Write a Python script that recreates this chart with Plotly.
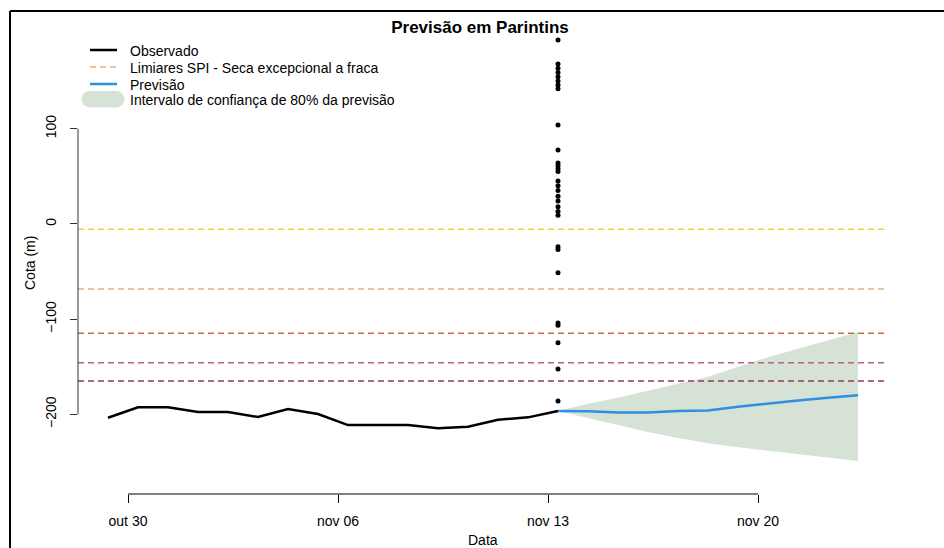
import pandas as pd
import plotly.graph_objects as go

# Observed series (daily)
obs_dates = pd.date_range("2023-10-29 08:00", periods=16, freq="D")
obs_values = [-203.6, -192.6, -192.6, -197.6, -197.6, -202.8, -194.4, -199.7,
              -211.3, -211.3, -211.3, -214.7, -213.0, -205.7, -203.2, -196.5]

# Forecast with 80% interval
fc_dates = pd.date_range("2023-11-13 08:00", periods=11, freq="D")
fc_values = [-196.5, -196.8, -198.0, -198.0, -196.5, -196.0, -192.0, -188.5, -185.5, -182.5, -180.0]
fc_upper = [-196.5, -189.0, -182.5, -175.5, -168.0, -160.5, -150.0, -140.0, -131.0, -122.0, -113.5]
fc_lower = [-196.5, -204.0, -211.5, -218.5, -225.0, -230.5, -234.5, -238.0, -241.5, -245.0, -249.0]

# Scattered points on the last observed day
dot_date = "2023-11-13 08:00"
dot_values = [193.2, 168, 163.5, 159, 154.5, 150, 146, 142, 103.9, 77.6, 64, 61, 58, 55,
              45, 40, 35, 29, 24, 18, 13, 9, -24, -27, -51.3, -104, -106.5, -124.8, -152.4, -186]

# SPI thresholds (excepcional -> fraca)
thresholds = [-5.7, -68.4, -114.9, -145.8, -165.0]
threshold_colors = ["#F2D13C", "#E8AE7C", "#C9703A", "#B0687A", "#943A5C"]

tick_dates = ["2023-10-30", "2023-11-06", "2023-11-13", "2023-11-20"]
tick_text = ["out 30", "nov 06", "nov 13", "nov 20"]
y_ticks = [-200, -100, 0, 100]

# plot region in pixels
L, R, T, B = 78, 888, 22, 494


def px_x(x):
    return (x - L) / (R - L)


def px_y(y):
    return (B - y) / (B - T)


FONT = "Liberation Sans, Arial, sans-serif"
FS = 14

fig = go.Figure()

# Confidence ribbon
fig.add_trace(go.Scatter(x=fc_dates, y=fc_upper, mode="lines",
                         line=dict(width=0), hoverinfo="skip", showlegend=False))
fig.add_trace(go.Scatter(x=fc_dates, y=fc_lower, mode="lines", fill="tonexty",
                         fillcolor="#D6E2D6", line=dict(width=0),
                         hoverinfo="skip", showlegend=False))

# Observed
fig.add_trace(go.Scatter(x=obs_dates, y=obs_values, mode="lines",
                         line=dict(color="black", width=2.5), showlegend=False))

# Forecast
fig.add_trace(go.Scatter(x=fc_dates, y=fc_values, mode="lines",
                         line=dict(color="#2F8FE0", width=2.5), showlegend=False))

# Dots
fig.add_trace(go.Scatter(x=[dot_date] * len(dot_values), y=dot_values, mode="markers",
                         marker=dict(color="black", size=5), showlegend=False))

fig.update_layout(
    width=944, height=548,
    margin=dict(l=L, r=944 - R, t=T, b=548 - B),
    paper_bgcolor="white", plot_bgcolor="white",
    showlegend=False,
    title=dict(text="<b>Previsão em Parintins</b>", x=480 / 944,
               xanchor="center", y=1 - 27 / 548, yanchor="middle",
               font=dict(size=17, color="black", family=FONT)),
    font=dict(family=FONT, color="black"),
)

# Thresholds
for val, col in zip(thresholds, threshold_colors):
    fig.add_hline(y=val, line=dict(color=col, width=1.5, dash="6px,4px"))

# partial axis lines (R style)
fig.add_shape(type="line", xref="x", yref="paper", x0=tick_dates[0], x1=tick_dates[-1],
              y0=0, y1=0, line=dict(color="black", width=1))
fig.add_shape(type="line", xref="paper", yref="y", x0=0, x1=0,
              y0=y_ticks[0], y1=y_ticks[-1], line=dict(color="#333333", width=1))
# outer frame (top and left visible)
fig.add_shape(type="line", xref="paper", yref="paper", x0=px_x(10), x1=px_x(960),
              y0=px_y(11), y1=px_y(11), line=dict(color="black", width=2))
fig.add_shape(type="line", xref="paper", yref="paper", x0=px_x(10), x1=px_x(10),
              y0=px_y(11), y1=px_y(560), line=dict(color="black", width=2))

# manual legend
legend_rows = [
    ("Observado", dict(color="black", width=2.5)),
    ("Limiares SPI - Seca excepcional a fraca", dict(color="#E8AE7C", width=1.5, dash="6px,4px")),
    ("Previsão", dict(color="#2F8FE0", width=2.5)),
]
row_y = [50, 67, 84, 100]
for (label, ln), yy in zip(legend_rows, row_y):
    fig.add_shape(type="line", xref="paper", yref="paper", x0=px_x(90), x1=px_x(117),
                  y0=px_y(yy), y1=px_y(yy), line=ln)
    fig.add_annotation(text=label, x=px_x(128), y=px_y(yy + 1), xref="paper", yref="paper",
                       xanchor="left", yanchor="middle", showarrow=False,
                       font=dict(size=FS, color="black", family=FONT))
# rounded swatch for the interval
sw = dict(fillcolor="#D6E2D6", line=dict(width=0), xref="paper", yref="paper")
fig.add_shape(type="rect", x0=px_x(90), x1=px_x(116), y0=px_y(107.5), y1=px_y(91), **sw)
fig.add_shape(type="circle", x0=px_x(81.5), x1=px_x(98), y0=px_y(107.5), y1=px_y(91), **sw)
fig.add_shape(type="circle", x0=px_x(108), x1=px_x(124.5), y0=px_y(107.5), y1=px_y(91), **sw)
fig.add_annotation(text="Intervalo de confiança de 80% da previsão", x=px_x(128), y=px_y(row_y[3]),
                   xref="paper", yref="paper", xanchor="left", yanchor="middle", showarrow=False,
                   font=dict(size=FS, color="black", family=FONT))

# axis titles
fig.add_annotation(text="Data", x=0.5, y=px_y(540), xref="paper", yref="paper",
                   xanchor="center", yanchor="middle", showarrow=False,
                   font=dict(size=FS, color="black", family=FONT))
fig.add_annotation(text="Cota (m)", x=px_x(30), y=px_y(263), xref="paper", yref="paper",
                   xanchor="center", yanchor="middle", textangle=-90, showarrow=False,
                   font=dict(size=FS, color="black", family=FONT))

fig.update_xaxes(range=["2023-10-28 08:00", "2023-11-24 08:00"], tickvals=tick_dates,
                 ticktext=tick_text, ticks="outside", ticklen=8, tickcolor="black",
                 ticklabelstandoff=6,
                 showline=False, showgrid=False, zeroline=False,
                 tickfont=dict(size=FS, color="black", family=FONT))
fig.update_yaxes(range=[-283.7, 212.1], tickvals=y_ticks, ticks="outside", ticklen=7,
                 tickcolor="#333333", tickangle=-90, ticklabelstandoff=8,
                 showline=False, showgrid=False, zeroline=False,
                 tickfont=dict(size=FS, color="black", family=FONT))

fig.write_html("out.html", config={"displayModeBar": False},
               post_script="document.body.style.margin='0';")
